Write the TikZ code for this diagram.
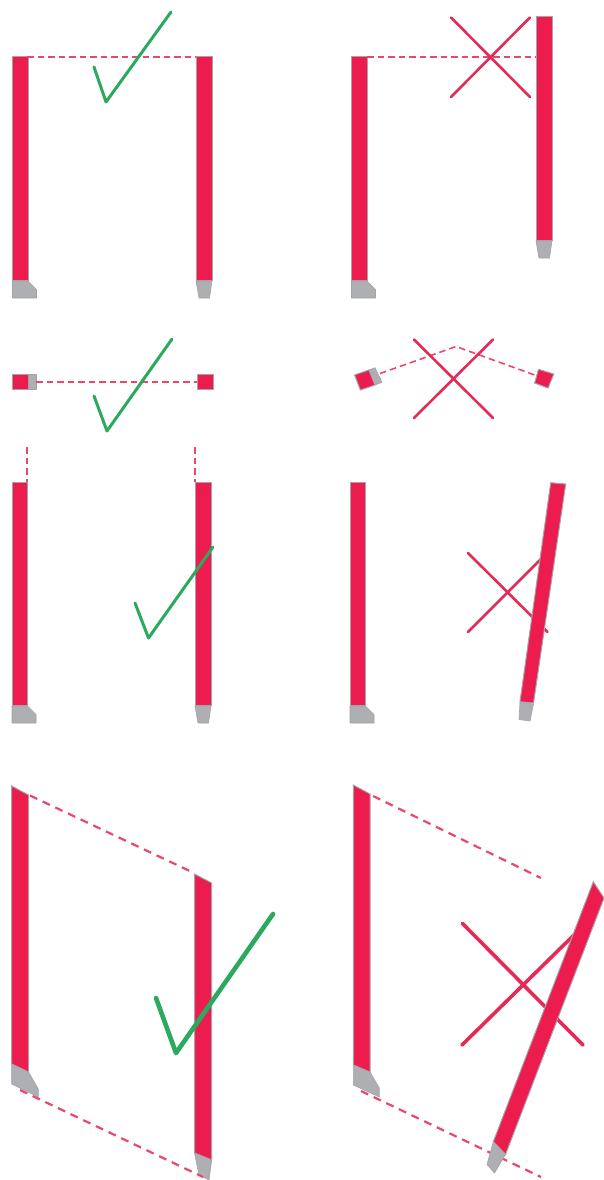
\documentclass[tikz,border=0pt]{standalone}
\definecolor{barred}{HTML}{EC1C4E}
\definecolor{tipgray}{HTML}{ADAFB2}
\definecolor{edgegray}{HTML}{A6A3A6}
\definecolor{okgreen}{HTML}{2BAA5E}
\definecolor{badred}{HTML}{E62A55}
\definecolor{dashred}{HTML}{E8486E}
\begin{document}
\begin{tikzpicture}[x=1pt,y=-1pt,
  barbox/.style={draw=edgegray,line width=1pt,fill=barred},
  tipbox/.style={draw=edgegray,line width=.6pt,fill=tipgray,line join=round},
  aimline/.style={draw=dashred,line width=1.6pt,dash pattern=on 6.5pt off 4pt},
  wideaim/.style={draw=dashred,line width=2.2pt,dash pattern=on 8pt off 6pt},
  okmark/.style={draw=okgreen,line width=3pt,line join=round,line cap=round},
  okwide/.style={draw=okgreen,line width=4.6pt,line join=round,line cap=round},
  nomark/.style={draw=badred,line width=2.6pt,line cap=round},
  nowide/.style={draw=badred,line width=3.6pt,line cap=round}]
  \useasboundingbox (0,0) rectangle (603,1180);

  \foreach \x/\y in {12.5/57,351.5/57,12/482,350/482} {
    \draw[barbox,shift={(\x,\y)}] (0,0) rectangle (15.5,223);
    \draw[tipbox,shift={(\x,\y)}] (0,224) -- (15.5,224) -- (24,232.5) -- (24,241) -- (0,241) -- cycle;
  }
  \foreach \x/\y in {196/57,536/17,195/482} {
    \draw[barbox,shift={(\x,\y)}] (0,0) rectangle (16,223);
    \draw[tipbox,shift={(\x,\y)}] (0,224) -- (16,224) -- (13.5,241) -- (3,241) -- cycle;
  }

  \draw[aimline] (27,57.3) -- (196,57.3);
  \draw[aimline] (367,57.3) -- (536,57.3);
  \draw[okmark] (94,67) -- (106,102) -- (171,12);
  \draw[nomark] (451,17.5) -- (530,97);
  \draw[nomark] (530,17.5) -- (451,97);

  \draw[barbox] (12.5,374.5) rectangle (28,389.5);
  \draw[tipbox] (28,374.5) rectangle (36,389.5);
  \draw[barbox] (197,374.5) rectangle (213,389.5);
  \draw[aimline] (36,382) -- (197,382);
  \draw[okmark] (94,396) -- (107,431) -- (172,339);
  \draw[barbox] (354.6,375) -- (369,370) -- (375,385) -- (360.4,390) -- cycle;
  \draw[tipbox] (369,370) -- (375,367.7) -- (382,382.3) -- (375,385) -- cycle;
  \draw[barbox] (538.5,369.3) -- (553.8,374) -- (548,388) -- (534.6,383) -- cycle;
  \draw[aimline] (380,373.5) -- (456,346.5) -- (536.5,375.7);
  \draw[nomark] (414,339.5) -- (493,418);
  \draw[nomark] (493,339.5) -- (414,418);

  \draw[aimline] (27,447) -- (27,482);
  \draw[aimline] (195,447) -- (195,482);
  \draw[okmark] (135,603) -- (148.5,638) -- (213,547);

  \draw[nomark] (468,553) -- (547.5,632);
  \draw[nomark] (468,632) -- (541,559);
  \draw[barbox] (550.7,482.7) -- (565.7,484) -- (533.5,703) -- (520,701.7) -- cycle;
  \draw[tipbox] (520,702) -- (533.5,704) -- (530,721) -- (519,719.5) -- cycle;

  \draw[barbox] (11.7,786) -- (28.5,795) -- (28.5,1072) -- (11.7,1064) -- cycle;
  \draw[tipbox] (11.7,1064) -- (28.5,1072) -- (38.3,1089) -- (38.3,1097) -- (11.7,1084) -- cycle;
  \draw[barbox] (194.5,874) -- (211.7,883) -- (211.7,1160) -- (194.5,1153) -- cycle;
  \draw[tipbox] (194.5,1153) -- (211.7,1160) -- (209,1180) -- (199,1175) -- cycle;
  \draw[wideaim] (30,795.5) -- (194,873);
  \draw[wideaim] (20,1090) -- (203,1177);
  \draw[okwide] (156,998) -- (176,1053) -- (273,914);

  \draw[barbox] (353.3,785) -- (370,794) -- (370,1072) -- (353.3,1065) -- cycle;
  \draw[tipbox] (353.3,1065) -- (370,1072) -- (379.3,1088) -- (379.3,1097) -- (353.3,1085) -- cycle;
  \draw[wideaim] (373,796) -- (541,878);
  \draw[wideaim] (361,1091) -- (541,1177);
  \draw[nowide] (462.5,923.5) -- (583,1045);
  \draw[nowide] (462,1045) -- (579,930);
  \draw[barbox] (593.3,881.7) -- (604,898) -- (505.5,1154.5) -- (493.3,1141.7) -- cycle;
  \draw[tipbox] (493.3,1141.7) -- (505.5,1154.5) -- (494.5,1173) -- (487,1164.5) -- cycle;
\end{tikzpicture}
\end{document}
